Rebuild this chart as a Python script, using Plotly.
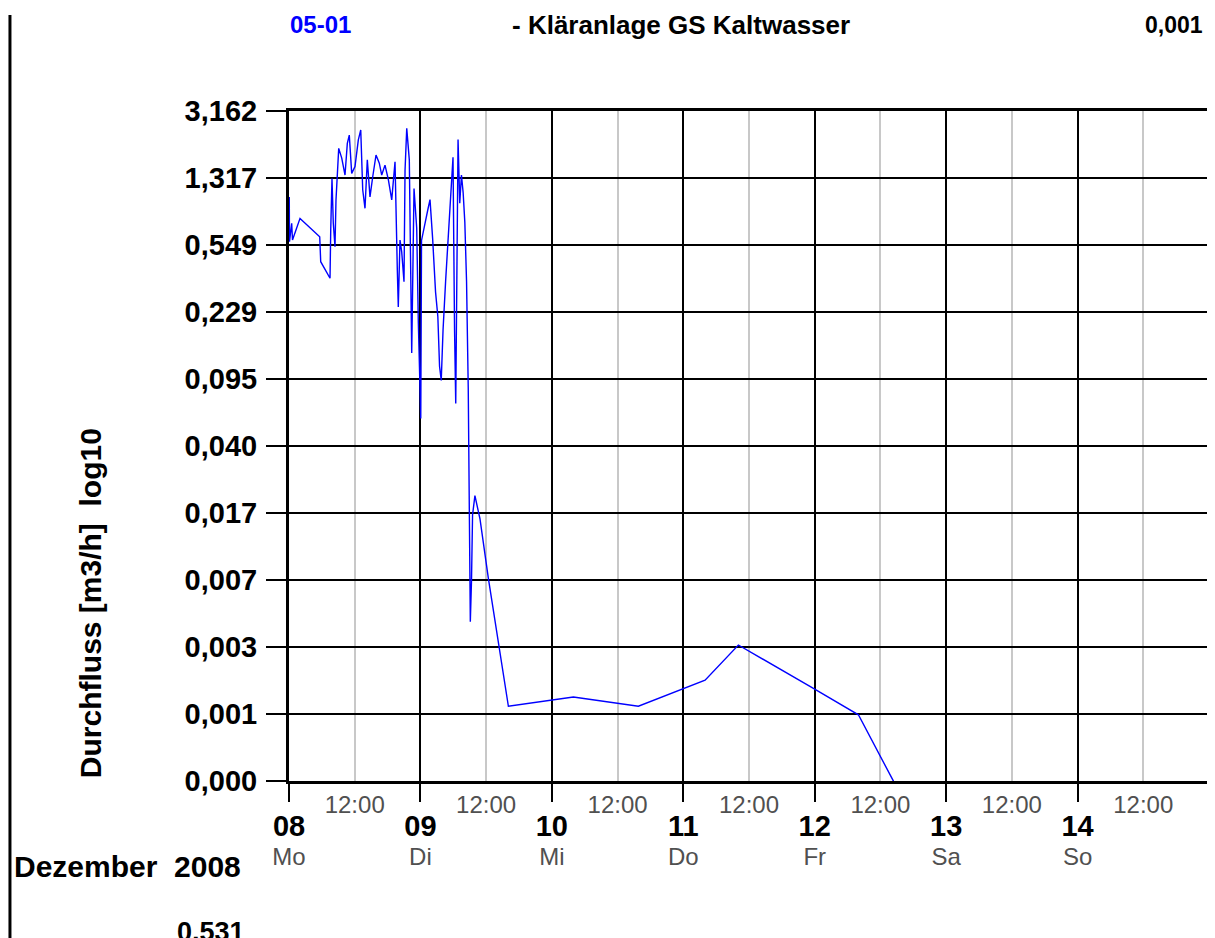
import pandas as pd
import plotly.graph_objects as go

# ---------------- data ----------------
start_date = "2008-12-08"
end_date = "2008-12-15"

# hours since 2008-12-08 00:00
hours = [0.05, 0.09, 0.49, 0.64, 2.01, 5.61, 5.79, 7.49, 7.62, 7.85, 8.09, 8.40, 8.58, 8.82,
         9.08, 9.63, 10.23, 10.65, 11.01, 11.45, 12.05, 12.66, 13.10, 13.46, 13.88, 14.30,
         14.79, 15.29, 15.89, 16.49, 16.93, 17.53, 18.14, 18.76, 19.36, 19.78, 19.96, 20.27,
         20.58, 21.00, 21.19, 21.50, 21.97, 22.41, 22.83, 23.32, 23.62, 24.06, 24.20, 25.33,
         25.75, 26.23, 26.76, 27.18, 27.49, 27.80, 28.13, 28.60, 28.95, 29.33, 29.64, 29.95,
         30.23, 30.45, 30.87, 31.18, 31.49, 31.80, 32.11, 32.42, 32.73, 32.91, 33.11, 33.33,
         33.52, 33.95, 34.87, 36.42, 40.06, 51.93, 63.80, 75.98, 82.06, 95.76, 103.98, 110.38]

flow = [1.03, 0.574, 0.73, 0.586, 0.778, 0.612, 0.442, 0.356, 0.668, 1.31, 0.73, 0.537, 0.99,
        1.40, 1.94, 1.71, 1.37, 2.07, 2.31, 1.40, 1.53, 2.17, 2.47, 1.13, 0.887, 1.67, 1.03,
        1.34, 1.78, 1.60, 1.37, 1.56, 1.29, 0.99, 1.63, 0.396, 0.245, 0.586, 0.503, 0.340,
        1.46, 2.52, 1.67, 0.134, 1.15, 0.686, 0.198, 0.0571, 0.583, 0.865, 0.994, 0.597,
        0.298, 0.216, 0.113, 0.0938, 0.181, 0.343, 0.515, 0.753, 1.25, 1.73, 0.181, 0.0693,
        2.18, 0.949, 1.37, 1.09, 0.736, 0.343, 0.0855, 0.0111, 0.00401, 0.00692, 0.0162,
        0.0208, 0.0154, 0.00702, 0.00133, 0.00150, 0.00133, 0.00187, 0.00296, 0.00168,
        0.00119, 0.0005]

day_labels = ["08", "09", "10", "11", "12", "13", "14"]
weekday_labels = ["Mo", "Di", "Mi", "Do", "Fr", "Sa", "So"]
half_day_label = "12:00"

ytick_labels = ["3,162", "1,317", "0,549", "0,229", "0,095", "0,040", "0,017",
                "0,007", "0,003", "0,001", "0,000"]
y_top_exp = 0.5
y_step_exp = 0.38

title_id = "05-01"
title_name = "- Kläranlage GS Kaltwasser"
title_value = "0,001"
y_title = "Durchfluss [m3/h]\u00a0\u00a0log10"
month_label = "Dezember\u00a0\u00a02008"
bottom_value = "0,531"

# ---------------- derived ----------------
t0 = pd.Timestamp(start_date)
times = [t0 + pd.Timedelta(hours=h) for h in hours]
day_ticks = [t0 + pd.Timedelta(days=i) for i in range(len(day_labels))]
half_ticks = [d + pd.Timedelta(hours=12) for d in day_ticks]
ytick_vals = [10 ** (y_top_exp - y_step_exp * k) for k in range(len(ytick_labels))]
y_range = [y_top_exp - y_step_exp * (len(ytick_labels) - 1), y_top_exp]
x_range = [t0, pd.Timestamp(end_date)]

FONT = "Liberation Sans, Arial, sans-serif"
GRAY_TXT = "#505050"

fig = go.Figure()
fig.add_trace(go.Scatter(x=times, y=flow, mode="lines",
                         line=dict(color="#0000ff", width=1.4),
                         showlegend=False, hoverinfo="x+y"))
# invisible carriers for the overlay axes
for ax in ["x2", "x3"]:
    fig.add_trace(go.Scatter(x=x_range, y=[1, 1], xaxis=ax, mode="lines",
                             line=dict(width=0, color="rgba(0,0,0,0)"),
                             showlegend=False, hoverinfo="skip"))

# page body has an 8px margin: figure is sized/margined to compensate
fig.update_layout(
    width=1207, height=930,
    margin=dict(l=281, r=6, t=103, b=157, autoexpand=False),
    paper_bgcolor="white", plot_bgcolor="white",
    font=dict(family=FONT, color="black"),
    xaxis=dict(type="date", range=x_range, tickmode="array",
               tickvals=half_ticks, ticktext=[half_day_label] * len(half_ticks),
               tickfont=dict(size=24, color=GRAY_TXT, family=FONT),
               ticks="", showgrid=True, gridcolor="#c8c8c8", gridwidth=1.5,
               showline=True, linecolor="black", linewidth=3, mirror=True,
               zeroline=False, automargin=False, ticklabelstandoff=0),
    xaxis2=dict(type="date", range=x_range, overlaying="x", anchor="y", side="bottom",
                tickmode="array", tickvals=day_ticks, ticktext=day_labels,
                tickfont=dict(size=29, color="black", family=FONT, weight="bold"),
                ticks="outside", ticklen=20, tickwidth=2, tickcolor="black",
                showgrid=True, gridcolor="black", gridwidth=2,
                showline=False, zeroline=False, automargin=False, ticklabelstandoff=-1),
    xaxis3=dict(type="date", range=x_range, overlaying="x", anchor="y", side="bottom",
                tickmode="array", tickvals=day_ticks, ticktext=weekday_labels,
                tickfont=dict(size=24, color=GRAY_TXT, family=FONT),
                ticks="", showgrid=False, showline=False, zeroline=False,
                automargin=False, ticklabelstandoff=59),
    yaxis=dict(type="log", range=y_range, tickmode="array",
               tickvals=ytick_vals, ticktext=ytick_labels,
               tickfont=dict(size=29, color="black", family=FONT, weight="bold"),
               ticks="outside", ticklen=20, tickwidth=2, tickcolor="black",
               showgrid=True, gridcolor="black", gridwidth=2,
               showline=True, linecolor="black", linewidth=3, mirror=True,
               zeroline=False, automargin=False, ticklabelstandoff=3),
)

# left border line of the page
fig.add_shape(type="line", xref="paper", yref="paper",
              x0=-0.3033, x1=-0.3033, y0=1.1433, y1=-0.25,
              line=dict(color="black", width=3))

ann = []
ann.append(dict(text=title_id, x=0.0337, y=1.1284, xanchor="center", yanchor="middle",
                font=dict(size=24, color="#0000ff", family=FONT, weight="bold")))
ann.append(dict(text=title_name, x=0.2402, y=1.1284, xanchor="left", yanchor="middle",
                font=dict(size=26, color="black", family=FONT, weight="bold")))
ann.append(dict(text=title_value, x=0.9957, y=1.1284, xanchor="right", yanchor="middle",
                font=dict(size=23, color="black", family=FONT, weight="bold")))
ann.append(dict(text=y_title, x=-0.215, y=0.2657, xanchor="center", yanchor="middle",
                textangle=-90,
                font=dict(size=30, color="black", family=FONT, weight="bold")))
ann.append(dict(text=month_label, x=-0.3011, y=-0.1269, xanchor="left", yanchor="middle",
                font=dict(size=30, color="black", family=FONT, weight="bold")))
ann.append(dict(text=bottom_value, x=-0.0853, y=-0.2, xanchor="center", yanchor="top",
                font=dict(size=27, color="black", family=FONT, weight="bold")))
for a in ann:
    a.update(xref="paper", yref="paper", showarrow=False)
fig.update_layout(annotations=ann)

fig.write_html("out.html")
